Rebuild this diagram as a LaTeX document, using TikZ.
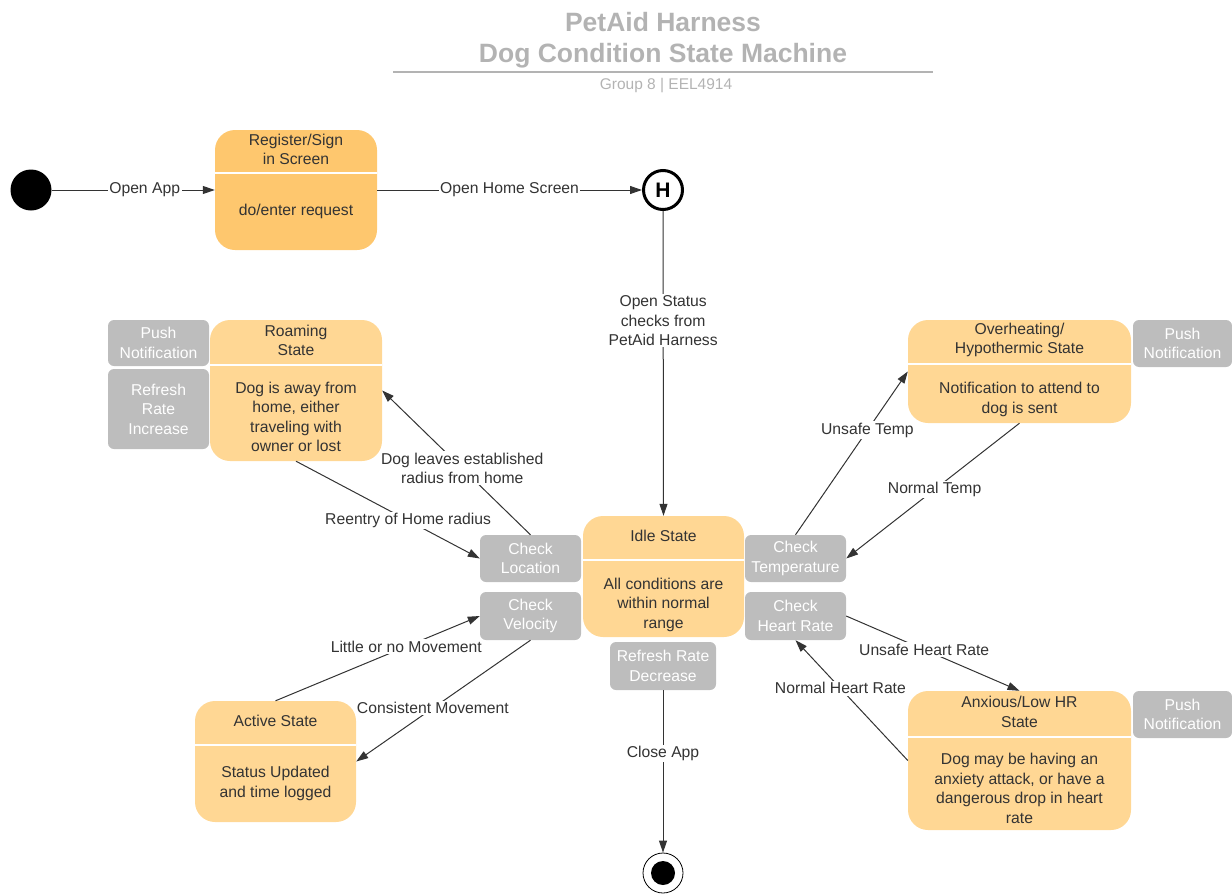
\documentclass[tikz,border=0pt]{standalone}
\usepackage{fontspec}
\setmainfont{Liberation Sans}
\usetikzlibrary{arrows.meta}
\usetikzlibrary{calc}
\usetikzlibrary{positioning}
\tikzset{>={Triangle[length=12pt,width=8pt]}}
\definecolor{stfill}{HTML}{FFD794}
\definecolor{regfill}{HTML}{FEC76E}
\definecolor{actfill}{HTML}{BDBDBD}
\definecolor{ink}{HTML}{333333}
\definecolor{ttl}{HTML}{B3B3B3}
\tikzset{
    state/.style={fill=stfill, rounded corners=20pt, inner sep=0pt},
    action/.style={fill=actfill, rounded corners=6pt, text=white, align=center, inner sep=0pt, font=\fontsize{15.7}{19.5}\selectfont},
    stxt/.style={text=ink, align=center, inner sep=0pt, font=\fontsize{15.7}{19.5}\selectfont},
    divider/.style={white, line width=1.5pt},
    trans/.style={->, draw=ink, line width=1pt},
    lbl/.style={fill=white, text=ink, inner sep=1.5pt, align=center, font=\fontsize{15.7}{19.5}\selectfont},
}
% divider line, title and body of a state box; [#1] moves the body down
\newcommand{\stateparts}[5][0pt]{%
    \draw[divider] (#2.west |- 0,#3) -- (#2.east |- 0,#3);
    \node[stxt, yshift=2pt] (#2-t) at ($(#2.north)!0.5!(#2.north |- 0,#3)$) {#4};
    \node[stxt, yshift=-#1] (#2-b) at ($(#2.south)!0.5!(#2.south |- 0,#3)$) {#5};
}

\begin{document}
\begin{tikzpicture}[x=1pt, y=-1pt] % dog condition state machine
	\useasboundingbox (0,0) rectangle (1232,894);
	% title
	\node[text=ttl, align=center, font=\bfseries\fontsize{26.5}{31}\selectfont] (title) at (663,40) {PetAid Harness\\Dog Condition State Machine};
	\draw[ttl, line width=2pt] (393,72) -- (933,72);
	\node[text=ttl, font=\fontsize{15.5}{17}\selectfont] (group) at (666,86) {Group 8 | EEL4914};
	% pseudo states
	\node[circle, fill=black, minimum size=41pt, inner sep=0pt] (init) at (31,190) {};
	\node[circle, draw=black, line width=3pt, minimum size=39pt, inner sep=0pt, font=\bfseries\fontsize{21}{21}\selectfont] (hist) at (663,190) {H};
	\node[circle, draw=black, line width=0.8pt, minimum size=40pt, inner sep=0pt] (fin) at (663,873) {};
	\node[circle, fill=black, minimum size=24pt, inner sep=0pt] (fin-in) at (fin) {};
	% states
	\node[state, fill=regfill, minimum width=162pt, minimum height=120pt] (reg) at (296,190) {};
	\stateparts{reg}{173}{Register/Sign\\in Screen}{do/enter request}
	\node[state, minimum width=172pt, minimum height=141pt] (roam) at (296,390.5) {};
	\stateparts[4pt]{roam}{365}{Roaming\\State}{Dog is away from\\home, either\\traveling with\\owner or lost}
	\node[state, minimum width=223pt, minimum height=103pt] (over) at (1019.5,371.5) {};
	\stateparts[6pt]{over}{364}{Overheating/\\Hypothermic State}{Notification to attend to\\dog is sent}
	\node[state, minimum width=161pt, minimum height=121pt] (idle) at (663.5,576.5) {};
	\stateparts[6pt]{idle}{560}{Idle State}{All conditions are\\within normal\\range}
	\node[state, minimum width=161pt, minimum height=121pt] (active) at (275.5,761.5) {};
	\stateparts{active}{745}{Active State}{Status Updated\\and time logged}
	\node[state, minimum width=223pt, minimum height=139pt] (anx) at (1019.5,760.5) {};
	\stateparts[5pt]{anx}{737}{Anxious/Low HR\\State}{Dog may be having an\\anxiety attack, or have a\\dangerous drop in heart\\rate}
	% actions
	\node[action, minimum width=101pt, minimum height=46pt] (push-roam) at (158.5,343) {Push\\Notification};
	\node[action, minimum width=101pt, minimum height=80pt] (refr-inc) at (158.5,409) {Refresh\\Rate\\Increase};
	\node[action, minimum width=99pt, minimum height=47pt] (push-over) at (1182.5,343.5) {Push\\Notification};
	\node[action, minimum width=99pt, minimum height=47pt] (push-anx) at (1182.5,714.5) {Push\\Notification};
	\node[action, minimum width=101pt, minimum height=47pt] (locn) at (530.5,558.5) {Check\\Location};
	\node[action, minimum width=101pt, minimum height=48pt] (velo) at (530.5,616) {Check\\Velocity};
	\node[action, minimum width=101pt, minimum height=47pt] (temp) at (795.5,558.5) {Check\\Temperature};
	\node[action, minimum width=101pt, minimum height=48pt] (heart) at (795.5,616) {Check\\Heart Rate};
	\node[action, minimum width=106pt, minimum height=48pt] (refr-dec) at (663,666) {Refresh Rate\\Decrease};
	% transitions
	\draw[trans] (init) -- (reg.west) node[lbl, pos=0.57] {Open App};
	\draw[trans] (reg.east) -- (hist.west) node[lbl, pos=0.5] {Open Home Screen};
	\draw[trans] (hist.south) -- (idle.north) node[lbl, pos=0.36] {Open Status\\checks from\\PetAid Harness};
	\draw[trans] (locn.north) -- (roam.east) node[lbl, pos=0.46] {Dog leaves established\\radius from home};
	\draw[trans] (roam.south) -- (locn.west) node[lbl, pos=0.61] {Reentry of Home radius};
	\draw[trans] (active.north) -- (velo.west) node[lbl, pos=0.64] {Little or no Movement};
	\draw[trans] (velo.south) -- (active.east) node[lbl, pos=0.56] {Consistent Movement};
	\draw[trans] (temp.north) -- (over.west) node[lbl, pos=0.64] {Unsafe Temp};
	\draw[trans] (over.south) -- (temp.east) node[lbl, pos=0.49] {Normal Temp};
	\draw[trans] (heart.east) -- (anx.north) node[lbl, pos=0.45] {Unsafe Heart Rate};
	\draw[trans] (anx.west) -- (heart.south) node[lbl, pos=0.6] {Normal Heart Rate};
	\draw[trans] (refr-dec.south) -- (fin.north) node[lbl, pos=0.39] {Close App};
\end{tikzpicture}
\end{document}
